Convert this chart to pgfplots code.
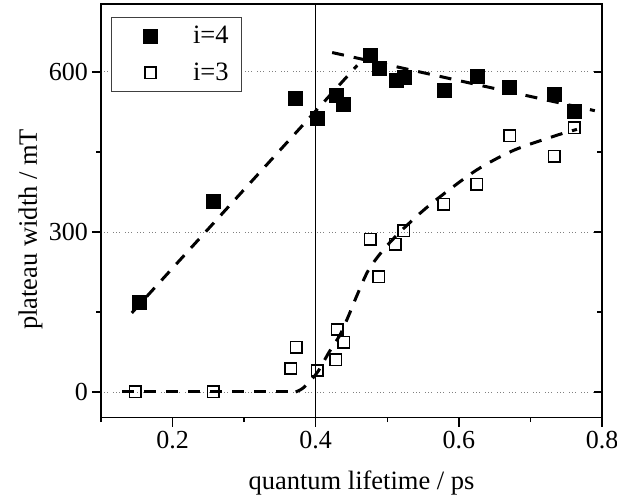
\documentclass[border=0pt]{standalone}
\usepackage{fontspec}
\setmainfont{Liberation Serif}
\usepackage{pgfplots}
\pgfplotsset{compat=1.18}
\begin{document}
\begin{tikzpicture}[font=\fontsize{26.5}{31}\selectfont]
\useasboundingbox (-101pt,-82.5pt) rectangle (516pt,417.5pt);
\begin{axis}[
  at={(0pt,0pt)}, anchor=south west,
  scale only axis, width=501pt, height=413.5pt,
  xmin=0.1, xmax=0.8, ymin=-48, ymax=727,
  xtick={0.2,0.4,0.6,0.8}, minor xtick={0.1,0.3,0.5,0.7},
  ytick={0,300,600}, minor ytick={150,450},
  xtick pos=left, ytick pos=left, tick align=outside,
  major tick length=9pt, minor tick length=4.5pt,
  tick style={black, line width=1.5pt},
  axis line style={line width=1.5pt},
  ymajorgrids,
  major grid style={gray, line width=0.6pt, dash pattern=on 1pt off 2pt on 1pt off 2pt on 1pt off 5pt},
  /pgf/number format/assume math mode=true,
  ticklabel style={font=\fontsize{26}{30}\selectfont},
  xticklabel style={inner sep=5pt, /pgf/number format/fixed, /pgf/number format/fixed zerofill, /pgf/number format/precision=1},
  yticklabel style={inner sep=4pt},
  xlabel={quantum lifetime / ps}, ylabel={plateau width / mT},
  xlabel style={at={(axis description cs:0.52,-0.173)}, anchor=base},
  ylabel style={at={(axis description cs:-0.128,0.455)}, anchor=base},
  legend style={at={(axis description cs:0.02,0.9685)}, anchor=north west, draw=black!75, line width=0.8pt, inner xsep=13pt, inner ysep=0pt, nodes={inner sep=0pt}, font=\fontsize{26.5}{31}\selectfont},
  legend image code/.code={\path[draw=none, fill=none] (0pt,-18.5pt) rectangle (68.7pt,18.5pt); \draw[#1] plot coordinates {(26pt,0pt)};},
]
\addplot[forget plot, black, line width=1.5pt] coordinates {(0.4,-48) (0.4,727)};
\addplot[only marks, mark=square*, mark size=7pt, mark options={fill=black, draw=black, line width=0.4pt, solid}] coordinates {
(0.153,169) (0.257,357) (0.371,550) (0.402,513) (0.428,556) (0.439,540) (0.476,631) (0.488,606) (0.513,584) (0.524,589) (0.579,566) (0.625,592) (0.671,571) (0.733,558) (0.761,527)};
\addlegendentry{i=4}
\addplot[only marks, mark=square, mark size=5.7pt, mark options={draw=black, line width=1.6pt, solid}] coordinates {
(0.148,0) (0.257,0) (0.365,44) (0.373,84) (0.402,40) (0.428,60) (0.430,117) (0.439,93) (0.476,286) (0.488,216) (0.511,277) (0.523,302) (0.579,352) (0.625,389) (0.671,480) (0.733,442) (0.761,495)};
\addlegendentry{i=3}
% fit curves
\addplot[forget plot, black, line width=3pt, dash pattern=on 12pt off 10pt] coordinates {(0.143,148) (0.458,612)};
\addplot[forget plot, black, line width=3pt, dash pattern=on 12pt off 10pt] coordinates {(0.423,636) (0.79,527)};
\addplot[forget plot, black, line width=3pt, dash pattern=on 12pt off 10pt] coordinates {(0.13,0) (0.372,0)};
\addplot[forget plot, black, line width=3pt, dash pattern=on 12pt off 10pt, smooth, tension=0.5] coordinates {
(0.372,0) (0.383,8) (0.402,36) (0.418,73) (0.434,107) (0.446,143) (0.458,182) (0.474,229) (0.495,267) (0.518,300) (0.546,335) (0.574,366) (0.625,416) (0.677,453) (0.737,481) (0.765,492)};
\end{axis}
\begin{axis}[
  at={(0pt,0pt)}, anchor=south west,
  scale only axis, width=501pt, height=413.5pt,
  xmin=0.1, xmax=0.8, ymin=-48, ymax=727,
  axis x line=none, axis y line*=right,
  ytick={0,300,600}, minor ytick={150,450}, yticklabels={},
  tick align=inside, major tick length=8pt, minor tick length=5pt,
  tick style={black, line width=1.5pt},
  axis line style={line width=1.5pt},
]
\end{axis}
\end{tikzpicture}
\end{document}
